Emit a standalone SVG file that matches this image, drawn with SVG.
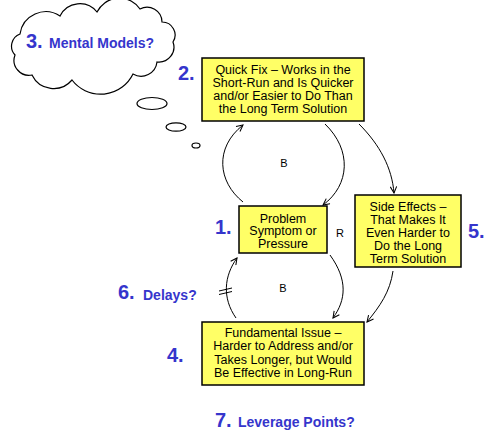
<svg xmlns="http://www.w3.org/2000/svg" width="493" height="433" viewBox="0 0 493 433">
<defs>
<style>
.box{fill:#ffff66;stroke:#000;stroke-width:1.5}
.bt{font-family:"Liberation Sans",Arial,sans-serif;font-size:12.5px;fill:#000;text-anchor:middle}
.num{font-family:"Liberation Sans",Arial,sans-serif;font-size:20px;font-weight:bold;fill:#3535cc}
.q{font-family:"Liberation Sans",Arial,sans-serif;font-size:14px;font-weight:bold;fill:#3535cc}
.lp{font-family:"Liberation Sans",Arial,sans-serif;font-size:11px;fill:#000;text-anchor:middle}
.c{fill:none;stroke:#000;stroke-width:1}
.th{fill:#fff;stroke:#000;stroke-width:1.2}
</style>
<marker id="ah" viewBox="0 0 10 10" refX="9" refY="5" markerWidth="8" markerHeight="8" markerUnits="userSpaceOnUse" orient="auto">
<path d="M1,1 L9,5 L1,9" fill="none" stroke="#000" stroke-width="1.3"/>
</marker>
</defs>
<rect width="493" height="433" fill="#fff"/>

<g id="thought">
<path class="th" d="M20,34 A26,26 0 0 1 60,16 A22,22 0 0 1 97,12 A25,25 0 0 1 140,9 A15,15 0 0 1 162,22 A13,13 0 0 1 173,42 A15,15 0 0 1 157,62 A16,16 0 0 1 133,74 A36,36 0 0 1 72,80 A24,24 0 0 1 32,75 A15,15 0 0 1 15,55 A13,13 0 0 1 20,34 Z"/>
<ellipse class="th" cx="152" cy="103.5" rx="15" ry="6"/>
<ellipse class="th" cx="176" cy="127" rx="10" ry="4.2"/>
<ellipse class="th" cx="196" cy="145.5" rx="4" ry="2.5"/>
<text class="num" x="26" y="48">3.</text>
<text class="q" x="49" y="48">Mental Models?</text>
</g>

<g id="connectors">
<path class="c" d="M243,202 C218,182 214,148 243,125" marker-end="url(#ah)"/>
<path class="c" d="M325,124 C352,150 350,185 323,205" marker-end="url(#ah)"/>
<path class="c" d="M359,124 C380,145 392,168 394,193" marker-end="url(#ah)"/>
<path class="c" d="M330,255 C348,280 346,300 333,318" marker-end="url(#ah)"/>
<path class="c" d="M393,271 C390,292 380,306 367,322" marker-end="url(#ah)"/>
<path class="c" d="M236,318 C222,298 224,276 237,258" marker-end="url(#ah)"/>
<path class="c" d="M219,291 L232,288 M219,294.5 L232,291.5"/>
<text class="lp" x="284" y="167">B</text>
<text class="lp" x="340" y="236.5">R</text>
<text class="lp" x="283" y="292">B</text>
</g>

<g id="quickfix">
<rect class="box" x="202" y="58" width="162" height="63"/>
<text class="bt" x="283" y="74">Quick Fix – Works in the</text>
<text class="bt" x="283" y="87">Short-Run and Is Quicker</text>
<text class="bt" x="283" y="100">and/or Easier to Do Than</text>
<text class="bt" x="283" y="113">the Long Term Solution</text>
<text class="num" x="178" y="80">2.</text>
</g>

<g id="problem">
<rect class="box" x="239" y="206" width="88" height="47"/>
<text class="bt" x="283" y="222.5">Problem</text>
<text class="bt" x="283" y="235">Symptom or</text>
<text class="bt" x="283" y="247.5">Pressure</text>
<text class="num" x="215" y="234">1.</text>
</g>

<g id="sideeffects">
<rect class="box" x="355" y="195" width="106" height="72"/>
<text class="bt" x="408" y="210.5">Side Effects –</text>
<text class="bt" x="408" y="223.5">That Makes It</text>
<text class="bt" x="408" y="236.5">Even Harder to</text>
<text class="bt" x="408" y="249.5">Do the Long</text>
<text class="bt" x="408" y="262.5">Term Solution</text>
<text class="num" x="468" y="238">5.</text>
</g>

<g id="fundamental">
<rect class="box" x="202" y="322" width="162" height="63"/>
<text class="bt" x="283" y="337">Fundamental Issue –</text>
<text class="bt" x="283" y="350">Harder to Address and/or</text>
<text class="bt" x="283" y="363.5">Takes Longer, but Would</text>
<text class="bt" x="283" y="377">Be Effective in Long-Run</text>
<text class="num" x="167" y="362">4.</text>
</g>

<g id="delays">
<text class="num" x="118" y="299">6.</text>
<text class="q" x="143" y="299.5">Delays?</text>
</g>

<g id="leverage">
<text class="num" x="215" y="427">7.</text>
<text class="q" x="238" y="427">Leverage Points?</text>
</g>
</svg>
